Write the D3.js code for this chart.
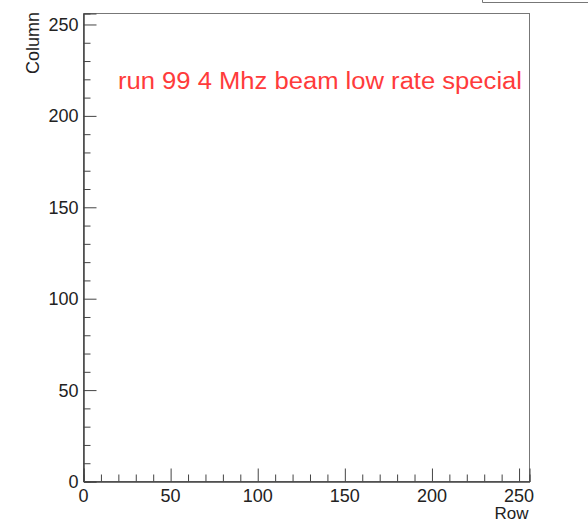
<!DOCTYPE html>
<html>
<head>
<meta charset="utf-8">
<script src="https://cdn.jsdelivr.net/npm/d3@7"></script>
<style>
  body { margin: 0; background: white; }
  text { font-family: "Liberation Sans", Arial, sans-serif; }
</style>
</head>
<body>
<svg class="svgMain" width="588" height="524"></svg>
<script>
// Empty 2D map: axes only, plus the run label.
const xDomain = [0, 256];
const yDomain = [0, 256];
const majorTicks = [0, 50, 100, 150, 200, 250];
const minorTicks = [10, 20, 30, 40, 60, 70, 80, 90, 110, 120, 130, 140, 160, 170, 180, 190, 210, 220, 230, 240];
const xTitle = "Row";
const yTitle = "Column";
const runLabel = "run 99 4 Mhz beam low rate special";

const svgMain = d3.select(".svgMain");
const frame = { left: 83.5, top: 13.5, right: 529.5, bottom: 481.5 };

let x = d3.scaleLinear().domain(xDomain).range([frame.left, frame.right]);
let y = d3.scaleLinear().domain(yDomain).range([frame.bottom, frame.top]);

// Stats box peeking in at the top right.
svgMain.append("path")
    .attr("d", "M482.5,0 V2.5 H588")
    .attr("fill", "none").attr("stroke", "#777").attr("stroke-width", 1);

// Frame.
svgMain.append("rect")
    .attr("x", frame.left).attr("y", frame.top)
    .attr("width", frame.right - frame.left).attr("height", frame.bottom - frame.top)
    .attr("fill", "white").attr("stroke", "#777").attr("stroke-width", 1);

// Ticks point inwards, ROOT style.
let xAxis = svgMain.append("g").attr("transform", `translate(0,${frame.bottom})`);
xAxis.call(d3.axisTop(x).tickValues(minorTicks).tickSize(7).tickFormat(""));
xAxis.append("g").call(d3.axisTop(x).tickValues(majorTicks).tickSize(13).tickFormat(""));
xAxis.selectAll(".domain").attr("stroke", "#444");
xAxis.selectAll("line").attr("stroke", "#444");

let yAxis = svgMain.append("g").attr("transform", `translate(${frame.left},0)`);
yAxis.call(d3.axisRight(y).tickValues(minorTicks).tickSize(7).tickFormat(""));
yAxis.append("g").call(d3.axisRight(y).tickValues(majorTicks).tickSize(13).tickFormat(""));
yAxis.selectAll(".domain").attr("stroke", "#444");
yAxis.selectAll("line").attr("stroke", "#444");

// Tick labels.
svgMain.selectAll(".xLabel").data(majorTicks).enter().append("text")
    .attr("class", "xLabel")
    .attr("x", d => x(d)).attr("y", frame.bottom + 20.5)
    .attr("text-anchor", "middle").attr("font-size", 18).attr("fill", "#222")
    .text(d => d);
svgMain.selectAll(".yLabel").data(majorTicks).enter().append("text")
    .attr("class", "yLabel")
    .attr("x", frame.left - 5).attr("y", d => y(d) + 6.5)
    .attr("text-anchor", "end").attr("font-size", 18).attr("fill", "#222")
    .text(d => d);

// Axis titles, aligned to the far ends like ROOT does.
svgMain.append("text")
    .attr("x", frame.right - 1).attr("y", 519)
    .attr("text-anchor", "end").attr("font-size", 17).attr("fill", "#222")
    .text(xTitle);
svgMain.append("text")
    .attr("transform", `translate(39,12) rotate(-90)`)
    .attr("text-anchor", "end").attr("font-size", 18).attr("fill", "#222")
    .text(yTitle);

// Run label in red.
svgMain.append("text")
    .attr("x", 118).attr("y", 88.5)
    .attr("font-size", 23).attr("fill", "#ff3b3b")
    .attr("textLength", 404).attr("lengthAdjust", "spacingAndGlyphs")
    .text(runLabel);
</script>
</body>
</html>
